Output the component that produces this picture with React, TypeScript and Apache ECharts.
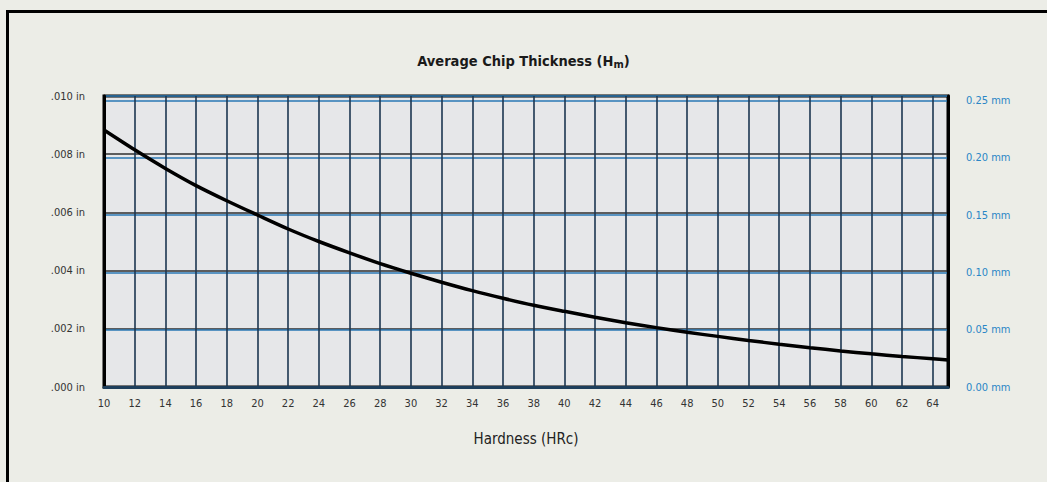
import React, { useEffect, useRef } from "react";
import * as echarts from "echarts";

const hardness = [10, 12, 14, 16, 18, 20, 22, 24, 26, 28, 30, 32, 34, 36, 38, 40, 42, 44, 46, 48, 50, 52, 54, 56, 58, 60, 62, 64, 65];
const chipInches = [0.00883, 0.00815, 0.00751, 0.00692, 0.0064, 0.00591, 0.00543, 0.005, 0.00461, 0.00424, 0.00391, 0.0036, 0.00331, 0.00305, 0.00281, 0.0026, 0.0024, 0.00221, 0.00204, 0.00188, 0.00174, 0.0016, 0.00147, 0.00135, 0.00124, 0.00114, 0.00105, 0.00097, 0.00093];

const FONT = "'Liberation Sans Narrow', 'DejaVu Sans Condensed', 'Roboto Condensed', 'Arial Narrow', sans-serif";

export default function App() {
  const ref = useRef<HTMLDivElement>(null);
  useEffect(() => {
    if (!ref.current) return;
    const chart = echarts.init(ref.current, null, { renderer: "svg" });
    chart.setOption({
      animation: false,
      backgroundColor: "#ecede7",
      title: {
        text: "Average Chip Thickness (H{sub|m})",
        left: "center",
        top: 46,
        textStyle: {
          fontFamily: FONT,
          fontSize: 14.5,
          fontWeight: "bold",
          color: "#1a1a1a",
          rich: {
            sub: { fontFamily: FONT, fontSize: 11, fontWeight: "bold", color: "#1a1a1a", padding: [8, 0, 0, 0] },
          },
        },
      },
      graphic: [
        {
          type: "rect",
          left: 5,
          top: 9,
          shape: { x: 0, y: 0, width: 1100, height: 520 },
          style: { fill: "none", stroke: "#000", lineWidth: 3 },
          silent: true,
        },
      ],
      grid: {
        left: 104,
        right: 99,
        top: 96,
        bottom: 95,
        show: true,
        backgroundColor: "#e6e7e9",
        borderColor: "#000",
        borderWidth: 3,
      },
      xAxis: {
        type: "value",
        min: 10,
        max: 65,
        interval: 2,
        name: "Hardness (HRc)",
        nameLocation: "middle",
        nameGap: 44,
        nameTextStyle: { fontFamily: FONT, fontSize: 15, color: "#222" },
        axisLine: { show: true, lineStyle: { color: "#1d3e5c", width: 3 } },
        axisTick: { show: false },
        axisLabel: {
          fontFamily: FONT,
          fontSize: 11,
          color: "#333",
          margin: 11,
          formatter: (v: number) => (v > 64 ? "" : String(v)),
        },
        splitLine: { show: true, lineStyle: { color: "#1c3650", width: 1.6 } },
      },
      yAxis: [
        {
          type: "value",
          min: 0,
          max: 0.01,
          interval: 0.002,
          position: "left",
          axisLine: { show: true, lineStyle: { color: "#000", width: 3 } },
          axisTick: { show: false },
          axisLabel: {
            fontFamily: FONT,
            fontSize: 11,
            color: "#333",
            margin: 19,
            formatter: (v: number) => v.toFixed(3).replace(/^0/, "") + " in",
          },
          splitLine: { show: true, lineStyle: { color: "#2e2e2e", width: 1.5 } },
        },
        {
          type: "value",
          min: 0,
          max: 0.254,
          interval: 0.05,
          position: "right",
          axisLine: { show: true, lineStyle: { color: "#000", width: 3 } },
          axisTick: { show: false },
          axisLabel: {
            fontFamily: FONT,
            fontSize: 11,
            color: "#2a86c6",
            margin: 18,
            padding: [0, 0, 10, 0],
            formatter: (v: number) =>
              Math.abs(v / 0.05 - Math.round(v / 0.05)) < 1e-6 ? v.toFixed(2) + " mm" : "",
          },
          splitLine: { show: true, lineStyle: { color: "#2a78b4", width: 1.5 } },
        },
      ],
      series: [
        {
          type: "line",
          data: hardness.map((h, i) => [h, chipInches[i]]),
          yAxisIndex: 0,
          smooth: 0.3,
          showSymbol: false,
          lineStyle: { color: "#000", width: 3.5 },
          z: 10,
        },
      ],
    });
    return () => chart.dispose();
  }, []);
  return <div ref={ref} style={{ position: "fixed", left: 0, top: 0, width: 1047, height: 482 }} />;
}
